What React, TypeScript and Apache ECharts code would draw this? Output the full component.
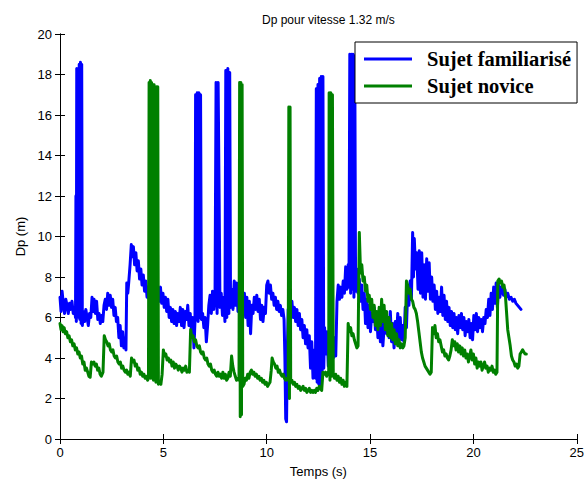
import React, { useEffect, useRef } from "react";
import * as echarts from "echarts";

const titleText = "Dp pour vitesse 1.32 m/s";
const xName = "Temps (s)";
const yName = "Dp (m)";
const seriesNames = ["Sujet familiarisé", "Sujet novice"];

// Sujet familiarisé : [temps (s), Dp (m)]
const familiarise: [number, number][] = [
  [0.00,7.0],[0.05,6.3],[0.10,7.3],[0.16,6.7],[0.22,6.2],[0.28,6.9],[0.34,6.6],[0.40,6.2],[0.46,6.7],[0.52,6.4],[0.58,6.8],[0.64,6.2],[0.70,6.5],[0.75,6.0],
  [0.77,12.0],[0.79,5.8],[0.81,18.3],[0.84,6.0],[0.87,18.3],[0.90,6.1],[0.93,18.5],[0.96,5.9],[0.99,18.6],[1.02,5.7],[1.05,18.5],[1.08,5.6],
  [1.13,6.3],[1.19,5.8],[1.25,6.4],[1.31,6.0],[1.37,5.6],[1.43,6.2],[1.49,6.0],[1.55,7.0],[1.60,6.3],[1.65,6.9],[1.71,6.2],[1.77,6.8],[1.83,5.9],[1.89,6.2],[1.95,5.7],[2.01,6.1],[2.07,5.8],[2.13,6.6],[2.19,6.9],[2.25,6.4],[2.31,7.2],[2.37,6.6],[2.43,7.1],[2.49,6.5],[2.55,6.9],[2.61,6.1],[2.67,6.5],[2.73,5.8],[2.79,6.0],[2.85,5.0],[2.91,5.6],[2.97,4.6],[3.03,5.3],[3.09,4.5],[3.15,5.0],[3.19,4.4],
  [3.23,7.7],[3.28,7.2],[3.33,7.8],[3.39,8.6],[3.45,9.6],[3.50,9.0],[3.55,9.5],[3.61,8.6],[3.67,9.2],[3.73,8.3],[3.79,8.8],[3.85,7.9],[3.91,8.4],[3.97,7.6],[4.03,8.1],[4.09,7.3],[4.15,7.8],[4.21,7.0],[4.27,7.5],[4.32,6.9],[4.40,7.2],[4.48,6.7],[4.56,7.1],[4.64,6.6],[4.72,7.3],[4.80,6.8],[4.86,7.5],[4.92,6.7],[4.98,7.2],[5.04,6.5],[5.10,7.0],[5.16,6.3],[5.22,6.9],[5.28,6.0],[5.34,6.5],[5.40,5.8],[5.46,6.4],[5.52,5.7],[5.58,6.3],[5.64,5.6],[5.70,6.2],[5.76,5.8],[5.82,6.5],[5.88,5.6],[5.94,6.4],[6.00,5.5],[6.06,6.3],[6.12,5.9],[6.18,6.6],[6.24,5.6],[6.30,6.2],[6.36,5.3],[6.42,6.0],[6.48,4.5],[6.53,5.8],
  [6.56,17.0],[6.60,5.9],[6.64,17.1],[6.68,5.8],[6.72,17.1],[6.76,6.0],[6.80,17.0],[6.84,5.9],
  [6.90,6.2],[6.96,5.5],[7.02,6.0],[7.08,4.8],[7.14,5.6],[7.20,6.6],[7.26,7.1],[7.32,6.2],[7.38,7.3],[7.44,6.4],[7.50,7.0],
  [7.55,17.6],[7.60,6.2],[7.65,17.6],[7.70,11.7],[7.74,6.5],[7.80,7.2],[7.86,6.1],[7.92,7.0],[7.98,5.8],
  [8.02,18.2],[8.07,6.0],[8.12,18.3],[8.17,6.2],[8.21,18.1],[8.25,6.5],
  [8.31,7.4],[8.37,6.4],[8.43,7.8],[8.49,6.6],[8.55,7.7],[8.61,6.3],[8.67,7.5],[8.73,6.9],[8.80,7.3],[8.86,6.5],[8.92,7.2],[8.98,6.0],[9.04,7.0],[9.10,5.6],[9.16,6.8],[9.22,5.2],[9.28,6.6],[9.34,6.2],[9.40,7.0],[9.46,6.4],[9.52,7.1],[9.58,6.3],[9.64,6.9],[9.70,5.9],[9.76,6.6],[9.82,5.8],[9.88,6.5],[9.94,6.2],[10.00,7.6],[10.06,7.8],[10.12,7.2],[10.18,7.6],[10.24,6.9],[10.30,7.2],[10.36,6.6],[10.42,7.0],[10.48,6.4],[10.54,6.8],[10.60,6.3],[10.66,6.6],[10.72,6.1],[10.78,6.4],[10.84,5.9],
  [10.88,4.0],[10.92,1.0],[10.96,0.85],[11.00,4.5],[11.04,6.4],
  [11.10,6.6],[11.16,6.2],[11.22,6.8],[11.28,6.0],[11.34,6.5],[11.40,5.8],[11.46,6.4],[11.52,5.6],[11.58,6.2],[11.64,5.4],[11.70,5.9],[11.76,5.0],[11.82,5.6],[11.88,4.7],[11.94,5.4],[12.00,4.5],[12.06,5.1],[12.12,3.5],[12.18,4.8],[12.24,3.0],[12.30,4.4],[12.36,3.0],
  [12.40,17.3],[12.44,2.8],[12.48,17.5],[12.52,2.7],[12.56,17.8],[12.60,2.6],[12.64,17.9],[12.68,3.0],[12.72,17.9],[12.76,3.5],[12.80,5.5],
  [12.86,4.2],[12.92,5.3],[12.98,3.6],[13.04,5.0],[13.10,4.2],[13.16,5.4],[13.22,4.0],[13.28,5.0],[13.34,4.1],[13.40,6.8],[13.46,7.6],[13.52,6.9],[13.58,7.5],[13.64,7.0],[13.70,7.8],[13.76,7.2],[13.82,8.5],[13.88,7.4],[13.94,8.6],[13.98,7.5],
  [14.02,19.0],[14.06,7.2],[14.10,19.0],[14.14,7.4],[14.18,19.0],[14.22,7.0],[14.26,18.9],[14.30,7.3],
  [14.36,8.4],[14.42,7.2],[14.48,7.9],[14.54,6.8],[14.60,7.6],[14.66,6.4],[14.72,7.2],[14.78,5.7],[14.84,6.9],[14.90,5.5],[14.96,6.6],[15.02,5.3],[15.08,6.2],[15.14,5.8],[15.20,6.5],[15.26,5.4],[15.32,6.2],[15.38,5.0],
  [15.44,5.9],[15.50,4.8],[15.56,5.8],[15.62,4.6],[15.68,5.5],[15.74,6.3],[15.80,5.2],[15.86,6.0],[15.92,5.0],[15.98,6.3],[16.04,4.8],[16.10,5.7],[16.16,4.5],[16.22,5.8],[16.28,5.1],[16.34,6.2],[16.40,5.0],[16.46,6.0],[16.52,4.9],[16.58,5.6],[16.64,4.8],[16.70,6.5],[16.76,5.5],
  [16.82,7.3],[16.88,6.6],[16.94,7.8],[17.00,6.9],[17.06,10.2],[17.10,8.0],[17.14,9.9],[17.20,8.4],[17.26,9.2],[17.32,7.4],[17.38,9.3],[17.44,7.2],[17.50,9.2],[17.56,7.0],[17.62,8.6],[17.68,6.9],[17.74,8.9],[17.80,7.3],[17.86,8.7],[17.92,6.9],[17.98,8.0],[18.04,6.8],[18.10,7.6],[18.16,6.4],[18.22,7.3],[18.28,6.2],[18.34,7.0],
  [18.40,6.3],[18.46,7.5],[18.52,6.1],[18.58,7.1],[18.64,5.9],[18.70,6.8],[18.76,5.8],[18.82,6.5],[18.88,5.6],[18.94,6.3],[19.00,5.5],
  [19.06,6.2],[19.12,5.4],[19.18,6.0],[19.24,5.2],[19.30,6.1],[19.36,5.5],[19.42,6.2],[19.48,5.4],[19.54,6.0],[19.60,5.1],[19.66,5.8],[19.72,5.3],[19.78,5.9],[19.84,5.0],[19.90,5.7],[19.96,4.9],
  [20.02,6.1],[20.08,5.4],[20.14,6.2],[20.20,5.3],[20.26,6.0],[20.32,5.5],[20.38,5.9],[20.44,5.3],[20.50,6.0],[20.56,5.7],
  [20.62,6.4],[20.68,6.0],[20.74,6.9],[20.80,6.1],[20.86,7.2],[20.92,6.4],[20.98,7.5],[21.04,6.7],[21.10,7.7],[21.16,6.5],[21.22,7.6],[21.28,7.0],[21.34,7.5],
  [21.40,7.3],[21.46,7.1],[21.52,7.4],[21.58,7.0],[21.66,7.2],[21.74,6.9],[21.82,7.0],[21.90,6.8],[21.98,6.9],[22.06,6.7],[22.14,6.6],[22.22,6.5],[22.30,6.4],
];

// Sujet novice : [temps (s), Dp (m)]
const novice: [number, number][] = [
  [0.00,5.7],[0.05,5.4],[0.10,5.6],[0.15,5.3],[0.20,5.5],[0.26,5.2],[0.32,5.3],[0.38,5.0],[0.44,5.1],[0.50,4.8],[0.56,4.9],[0.62,4.6],[0.68,4.7],[0.74,4.4],[0.80,4.5],[0.86,4.2],[0.92,4.3],[0.98,4.0],[1.04,4.1],[1.10,3.7],[1.16,3.8],[1.22,3.4],[1.28,3.5],[1.34,3.3],
  [1.40,3.1],[1.46,3.05],[1.52,3.8],[1.58,3.7],[1.64,3.8],[1.70,3.6],[1.76,3.7],[1.82,3.4],[1.88,3.5],[1.94,3.2],[2.00,3.1],[2.08,3.3],
  [2.14,5.1],[2.20,4.9],[2.26,4.8],[2.32,4.6],[2.38,4.7],[2.44,4.4],[2.50,4.3],[2.56,4.4],[2.62,4.1],[2.68,4.0],[2.74,4.1],[2.80,3.8],[2.86,3.7],[2.92,3.8],[2.98,3.5],[3.04,3.6],[3.10,3.4],[3.16,3.3],[3.22,3.4],[3.28,3.2],[3.34,3.3],[3.40,3.1],
  [3.46,4.0],[3.52,3.8],[3.58,3.9],[3.64,3.6],[3.70,3.7],[3.76,3.4],[3.82,3.5],[3.88,3.2],[3.94,3.3],[4.00,3.1],[4.06,3.2],[4.12,3.0],[4.18,3.1],[4.24,2.9],[4.28,3.0],
  [4.31,17.6],[4.34,3.1],[4.37,17.7],[4.40,3.0],[4.43,17.6],[4.46,3.2],[4.49,17.5],[4.52,2.9],[4.55,17.5],[4.58,3.1],[4.61,17.4],[4.64,2.8],[4.67,17.4],[4.70,3.0],[4.73,17.4],[4.76,2.7],
  [4.82,2.8],[4.88,2.7],[4.94,3.2],[5.00,4.4],[5.06,4.1],[5.12,4.2],[5.18,3.9],[5.24,4.0],[5.30,3.8],[5.36,3.9],[5.42,3.6],[5.48,3.8],[5.54,3.5],[5.60,3.7],[5.66,3.6],[5.72,3.4],[5.78,3.6],[5.84,3.5],[5.90,3.3],[5.96,3.5],[6.02,3.4],[6.08,3.6],[6.14,3.3],[6.20,3.4],[6.26,3.3],
  [6.32,5.4],[6.38,5.0],[6.44,5.1],[6.50,4.8],[6.56,4.9],[6.62,4.6],[6.68,4.5],[6.74,4.6],[6.80,4.3],[6.86,4.2],[6.92,4.3],[6.98,4.0],[7.04,3.9],[7.10,4.0],[7.16,3.7],[7.22,3.6],[7.28,3.7],[7.34,3.4],[7.40,3.3],[7.46,3.4],[7.52,3.2],[7.58,3.1],
  [7.64,3.3],[7.70,3.1],[7.76,3.2],[7.82,3.0],[7.88,3.3],[7.94,3.0],[8.00,3.2],[8.06,2.9],[8.12,3.0],[8.18,3.3],[8.24,3.1],[8.30,4.1],[8.36,3.6],[8.42,3.3],[8.48,3.1],[8.54,2.9],[8.60,3.0],[8.66,2.9],
  [8.69,17.6],[8.72,1.1],[8.75,17.6],[8.78,1.2],[8.81,17.5],[8.84,2.6],
  [8.90,2.7],[8.96,3.0],[9.02,2.9],[9.08,3.2],[9.14,3.0],[9.20,3.3],[9.26,3.4],[9.32,3.2],[9.38,3.3],[9.44,3.1],[9.50,3.2],[9.56,3.0],[9.62,3.1],[9.68,2.9],[9.74,3.0],[9.80,2.8],[9.86,2.9],[9.92,2.7],[9.98,2.8],[10.04,2.6],[10.10,2.7],[10.16,2.8],
  [10.22,3.4],[10.26,4.0],[10.32,3.8],[10.38,3.7],[10.44,3.5],[10.50,3.6],[10.56,3.3],[10.62,3.4],[10.68,3.2],[10.74,3.1],[10.80,3.2],[10.86,3.0],[10.92,2.9],[10.98,3.0],[11.04,2.9],
  [11.07,16.4],[11.10,2.0],[11.13,16.4],[11.16,2.8],
  [11.22,2.9],[11.28,2.7],[11.34,2.8],[11.40,2.6],[11.46,2.7],[11.52,2.5],[11.58,2.6],[11.64,2.4],[11.70,2.5],[11.76,2.6],[11.82,2.4],[11.88,2.5],[11.94,2.3],[12.00,2.4],[12.06,2.5],[12.12,2.3],[12.18,2.4],[12.24,2.3],[12.30,2.4],[12.36,2.3],[12.42,2.5],[12.48,2.4],[12.54,2.6],[12.60,2.5],[12.66,2.4],
  [12.72,3.3],[12.78,3.2],[12.84,3.3],[12.90,3.1],[12.96,3.3],[13.00,3.2],
  [13.02,17.1],[13.06,2.9],[13.10,17.1],[13.14,3.1],[13.18,17.0],[13.22,3.2],
  [13.28,3.0],[13.34,3.2],[13.40,2.9],[13.46,3.1],[13.52,2.8],[13.58,3.0],[13.64,2.7],[13.70,2.9],[13.76,2.6],[13.82,2.8],[13.88,2.6],
  [13.94,5.7],[14.00,5.3],[14.06,5.5],[14.12,5.1],[14.18,5.2],[14.24,4.9],[14.30,4.7],[14.36,4.5],[14.42,4.6],
  [14.48,10.2],[14.54,8.2],[14.60,8.6],[14.66,7.8],[14.72,8.0],[14.78,7.3],[14.84,7.6],[14.90,6.8],[14.96,7.1],[15.02,6.4],[15.08,6.9],[15.14,6.0],[15.20,6.6],[15.26,5.6],[15.32,6.3],[15.38,5.4],[15.44,6.5],[15.50,5.6],[15.56,6.9],[15.62,5.8],[15.68,6.6],[15.74,5.4],[15.80,6.3],[15.86,5.1],[15.92,6.0],[15.98,5.0],[16.04,5.7],[16.10,4.9],[16.16,5.4],[16.22,4.7],[16.28,5.2],[16.34,4.6],[16.40,4.9],[16.46,4.5],[16.52,4.7],[16.58,4.5],[16.64,4.6],[16.70,5.0],
  [16.76,7.8],[16.82,7.6],[16.88,7.2],[16.94,7.4],[17.00,6.9],[17.06,6.8],[17.12,6.5],[17.18,6.4],[17.24,6.2],[17.30,5.8],[17.36,5.3],[17.42,4.8],[17.48,4.3],[17.54,4.0],[17.60,3.8],[17.66,3.6],[17.72,3.5],[17.78,3.4],[17.84,3.3],[17.90,3.2],[17.96,3.3],
  [18.02,5.5],[18.08,5.2],[18.14,5.6],[18.20,5.0],[18.26,5.2],[18.32,4.8],[18.38,4.9],[18.44,4.6],[18.50,4.3],[18.56,4.4],[18.62,4.1],[18.68,4.2],[18.74,4.0],[18.80,3.9],[18.86,4.1],[18.92,4.4],
  [18.98,4.9],[19.04,4.6],[19.10,4.8],[19.16,4.4],[19.22,4.7],[19.28,4.3],[19.34,4.6],[19.40,4.2],[19.46,4.5],[19.52,4.1],[19.58,4.4],[19.64,4.0],[19.70,4.2],[19.76,3.8],[19.82,4.1],[19.88,4.4],[19.94,3.9],[20.00,4.2],[20.06,3.7],[20.12,4.0],[20.18,3.5],[20.24,3.8],[20.30,3.6],[20.36,3.8],[20.42,3.4],[20.48,3.6],
  [20.54,3.8],[20.60,3.5],[20.66,3.6],[20.72,3.3],[20.78,3.5],[20.84,3.4],[20.90,3.6],[20.96,3.3],[21.02,3.4],[21.08,3.2],[21.14,3.3],
  [21.18,7.8],[21.24,7.9],[21.30,7.7],[21.36,7.8],[21.42,7.5],[21.48,7.6],[21.54,7.2],[21.60,6.3],[21.66,5.4],[21.72,5.0],[21.78,4.6],[21.84,4.1],[21.90,3.9],[21.96,3.8],[22.02,3.6],[22.08,3.7],[22.14,3.5],[22.20,3.6],[22.26,4.2],[22.32,4.3],[22.38,4.4],[22.44,4.3],[22.50,4.2],[22.56,4.2],
];

const xMin = 0, xMax = 25, xStep = 5;
const yMin = 0, yMax = 20, yStep = 2;
const colors = ["#0000ff", "#008000"];

export default function App() {
  const ref = useRef<HTMLDivElement>(null);
  useEffect(() => {
    if (!ref.current) return;
    const chart = echarts.init(ref.current, null, { renderer: "svg" });
    const axisFont = { color: "#000", fontFamily: "Liberation Sans, Arial, sans-serif", fontSize: 13 };
    const line = { lineStyle: { color: "#000", width: 1 } };
    const tick = { show: true, inside: true, length: 5, lineStyle: { color: "#000" } };
    chart.setOption({
      animation: false,
      backgroundColor: "#fff",
      title: {
        text: titleText,
        left: 257,
        top: 9,
        textStyle: { fontFamily: "Liberation Sans, Arial, sans-serif", fontSize: 12, fontWeight: "normal", color: "#000" },
      },
      legend: {
        orient: "vertical",
        left: 355,
        top: 42,
        padding: [6, 6, 6, 9],
        itemGap: 5,
        itemWidth: 48,
        itemHeight: 3,
        icon: "rect",
        borderColor: "#000",
        borderWidth: 1,
        backgroundColor: "#fff",
        textStyle: {
          fontFamily: "Liberation Serif, Times New Roman, serif",
          fontSize: 20.5,
          fontWeight: "bold",
          color: "#000",
          lineHeight: 22,
          padding: [0, 0, 0, 10],
        },
        data: seriesNames,
      },
      grid: { left: 60, right: 2, top: 34, bottom: 50, containLabel: false },
      xAxis: [
        {
          type: "value", min: xMin, max: xMax, interval: xStep,
          axisLine: line, axisTick: tick, splitLine: { show: false },
          axisLabel: { ...axisFont, margin: 7 },
          name: xName, nameLocation: "middle", nameGap: 26,
          nameTextStyle: axisFont,
        },
        {
          type: "value", position: "top", min: xMin, max: xMax, interval: xStep,
          axisLine: line, axisTick: tick, splitLine: { show: false }, axisLabel: { show: false },
        },
      ],
      yAxis: [
        {
          type: "value", min: yMin, max: yMax, interval: yStep,
          axisLine: line, axisTick: tick, splitLine: { show: false },
          axisLabel: { ...axisFont, margin: 8 },
          name: yName, nameLocation: "middle", nameGap: 32, nameRotate: 90,
          nameTextStyle: axisFont,
        },
        {
          type: "value", position: "right", min: yMin, max: yMax, interval: yStep,
          axisLine: line, axisTick: tick, splitLine: { show: false }, axisLabel: { show: false },
        },
      ],
      series: [
        {
          name: seriesNames[0], type: "line", data: familiarise, showSymbol: false,
          color: colors[0],
          lineStyle: { color: colors[0], width: 3, join: "round", cap: "round" },
          xAxisIndex: 0, yAxisIndex: 0,
        },
        {
          name: seriesNames[1], type: "line", data: novice, showSymbol: false,
          color: colors[1],
          lineStyle: { color: colors[1], width: 3, join: "round", cap: "round" },
          xAxisIndex: 0, yAxisIndex: 0,
        },
      ],
    });
    return () => chart.dispose();
  }, []);
  return <div ref={ref} style={{ position: "fixed", left: 0, top: 0, width: 587, height: 489 }} />;
}
